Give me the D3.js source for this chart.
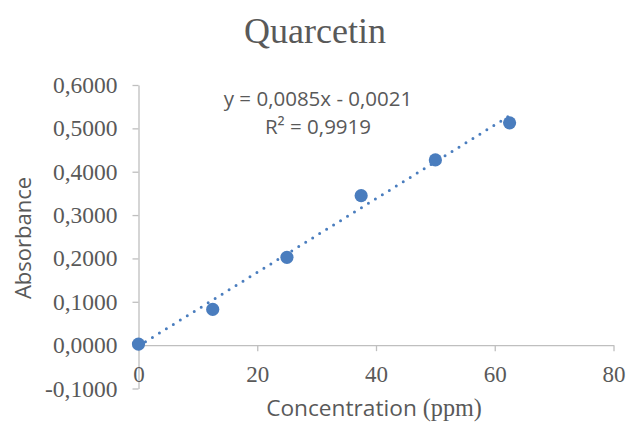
<!DOCTYPE html>
<html>
<head>
<meta charset="utf-8">
<script src="https://cdn.jsdelivr.net/npm/d3@7/dist/d3.min.js"></script>
<style>
  html, body { margin: 0; padding: 0; background: #fff; }
  svg { display: block; }
</style>
</head>
<body>
<svg id="chart" width="630" height="423"></svg>
<script>
// ---- data ----
const concentrations = [0, 12.5, 25, 37.5, 50, 62.5];
const absorbances = [0.0025, 0.0824, 0.2025, 0.3448, 0.4273, 0.5127];
const xTicks = [0, 20, 40, 60, 80];
const yTicks = [-0.1, 0, 0.1, 0.2, 0.3, 0.4, 0.5, 0.6];
const trendSlope = 0.0085;
const trendIntercept = -0.0021;
const trendRange = [0, 62.5];
const titleText = "Quarcetin";
const xTitle = ["Concentration ", "(ppm)"];
const yTitle = "Absorbance";
const equationLines = ["y = 0,0085x - 0,0021", "R² = 0,9919"];

// ---- layout ----
const svg = d3.select("#chart");
const textColor = "#595959";
const axisColor = "#bfbfbf";
const markColor = "#4a7dbe";
const serif = "'Liberation Serif', 'Times New Roman', serif";
const sans = "'Open Sans', 'Liberation Sans', sans-serif";

const x = d3.scaleLinear().domain([0, 80]).range([138.5, 613.5]);
const y = d3.scaleLinear().domain([-0.1, 0.6]).range([388.5, 85]);

const loc = d3.formatLocale({decimal: ",", thousands: ".", grouping: [3], currency: ["", ""], minus: "-"});
const fmtY = loc.format(".4f");

// y axis
const yAxis = svg.append("g")
  .attr("transform", `translate(${x(0)},0)`)
  .call(d3.axisLeft(y).tickValues(yTicks).tickFormat(fmtY).tickSize(6).tickPadding(15).tickSizeOuter(0));
yAxis.select(".domain").attr("stroke", axisColor).attr("stroke-width", 1.3);
yAxis.selectAll(".tick line").attr("stroke", axisColor).attr("stroke-width", 1.3);
yAxis.selectAll(".tick text")
  .attr("fill", textColor).attr("font-family", serif).attr("font-size", 23.5);

// x axis at y=0
const xAxis = svg.append("g")
  .attr("transform", `translate(0,${y(0)})`)
  .call(d3.axisBottom(x).tickValues(xTicks).tickFormat(d3.format("d")).tickSize(6).tickPadding(15).tickSizeOuter(0));
xAxis.select(".domain").attr("stroke", axisColor).attr("stroke-width", 1.3);
xAxis.selectAll(".tick line").attr("stroke", axisColor).attr("stroke-width", 1.3);
xAxis.selectAll(".tick text")
  .attr("fill", textColor).attr("font-family", serif).attr("font-size", 23);

// trendline (dotted)
const line = d3.line().x(d => x(d)).y(d => y(trendSlope * d + trendIntercept));
svg.append("path")
  .datum(trendRange)
  .attr("d", line)
  .attr("fill", "none")
  .attr("stroke", markColor)
  .attr("stroke-width", 3)
  .attr("stroke-linecap", "round")
  .attr("stroke-dasharray", "0 8.2");

// points
svg.append("g").selectAll("circle")
  .data(concentrations.map((c, i) => [c, absorbances[i]]))
  .join("circle")
  .attr("cx", d => x(d[0]))
  .attr("cy", d => y(d[1]))
  .attr("r", 6.6)
  .attr("fill", markColor);

// title
svg.append("text")
  .attr("x", 315).attr("y", 43)
  .attr("text-anchor", "middle")
  .attr("font-family", serif).attr("font-size", 36)
  .attr("fill", textColor)
  .text(titleText);

// equation
const eq = svg.append("text")
  .attr("text-anchor", "middle")
  .attr("font-family", sans).attr("font-size", 20.5)
  .attr("fill", textColor);
equationLines.forEach((t, i) => {
  eq.append("tspan").attr("x", 318).attr("y", 106 + i * 27.5).text(t);
});

// y title
svg.append("text")
  .attr("transform", `translate(31,238) rotate(-90)`)
  .attr("text-anchor", "middle")
  .attr("font-family", sans).attr("font-size", 22)
  .attr("fill", textColor)
  .text(yTitle);

// x title
const xt = svg.append("text")
  .attr("x", 374).attr("y", 416)
  .attr("text-anchor", "middle")
  .attr("font-size", 22.7)
  .attr("fill", textColor);
xt.append("tspan").attr("font-family", sans).text(xTitle[0]);
xt.append("tspan").attr("font-family", serif).attr("font-size", 24.2).text(xTitle[1]);
</script>
</body>
</html>
